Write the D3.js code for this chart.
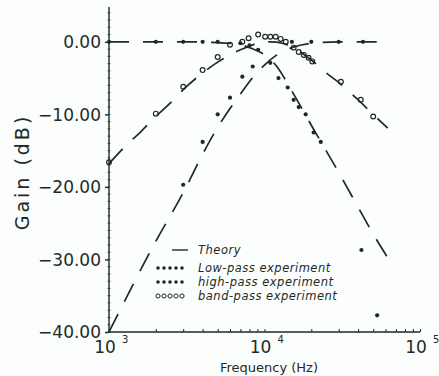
<!DOCTYPE html>
<html>
<head>
<meta charset="utf-8">
<title>filter gain vs frequency</title>
<style>
  body { margin: 0; background: #fcfdfd; }
  svg { display: block; }
  text { font-family: "DejaVu Sans", sans-serif; fill: #1e2b24; }
</style>
</head>
<body>
<svg></svg>
<script src="https://d3js.org/d3.v7.min.js"></script>
<script>
// theory curves: frequency in Hz, gain in dB
const lowTheoryF  = [1000, 3000, 5000, 7000, 8000, 10000, 12000, 15000, 20000, 30000, 40000, 50000, 63000];
const lowTheoryG  = [0, 0, -0.1, -0.4, -0.8, -1.8, -3.4, -6.8, -11.5, -18, -22.8, -26.5, -30];
const highTheoryF = [1000, 2000, 3000, 4000, 5000, 6000, 7000, 8000, 9000, 10000, 12000, 15000, 20000, 30000, 60000];
const highTheoryG = [-40, -27.5, -20.8, -15.5, -11.8, -9.2, -7.2, -5.5, -4.2, -3.2, -1.8, -0.8, -0.2, 0, 0];
const bandTheoryF = [1000, 1300, 1600, 2000, 2600, 3000, 4000, 5000, 6000, 7000, 8000, 9000, 11000, 13000, 15000, 20000, 25000, 30000, 40000, 50000, 62000];
const bandTheoryG = [-16.8, -14.2, -12.4, -10.3, -8, -6.6, -4.3, -2.8, -1.8, -1.1, -0.6, -0.2, 0, -0.2, -0.7, -2.5, -4.3, -5.6, -8, -10, -11.9];

// experiments
const lowExpF  = [1000, 2000, 3000, 4000, 5000, 7000, 8000, 10900, 12300, 14100, 15400, 16600, 18400, 20700, 23000, 42000, 53000];
const lowExpG  = [0, 0, 0, 0, 0, -0.2, -0.5, -2.9, -5, -6.3, -8, -9, -10, -12.5, -13.8, -28.7, -37.7];
const highExpF = [3000, 4000, 5000, 6000, 7200, 8400, 9100, 15000, 20000, 30000, 43000];
const highExpG = [-19.7, -13.8, -10, -7.7, -4.8, -3.4, -1.1, 0, 0, 0, 0];
const bandExpF = [1000, 2000, 3000, 4000, 5000, 6000, 7200, 7900, 9100, 10100, 10900, 11800, 12700, 13700, 15400, 16600, 17900, 19200, 20300, 31000, 41600, 50000];
const bandExpG = [-16.6, -9.9, -6.2, -3.9, -2.1, -0.4, 0, 0.5, 1, 0.7, 0.7, 0.7, 0.4, 0, -0.8, -1.4, -1.8, -2.2, -2.7, -5.5, -8, -10.3];

const yTicks = [0, -10, -20, -30, -40];
const xTicks = [1e3, 1e4, 1e5];
const legendLabels = ["Theory", "Low-pass  experiment", "high-pass experiment", "band-pass experiment"];

const width = 439, height = 376;
const ink = "#1e2b24";
const svg = d3.select("svg").attr("width", width).attr("height", height);

const x = d3.scaleLog().domain([1e3, 1e5]).range([109, 420]);
const y = d3.scaleLinear().domain([-40, 4.8]).range([332, 7]);

const zip = (f, g) => f.map((v, i) => ({f: v, g: g[i]}));

// y axis
const yAxis = svg.append("g").attr("transform", "translate(109,0)")
  .call(d3.axisLeft(y).tickValues(yTicks).tickSize(4).tickFormat(d => d3.format(".2f")(d).replace("-", "\u2212")));
yAxis.select(".domain").attr("stroke", ink).attr("stroke-width", 1.4).attr("d", "M0," + y(-40) + "V" + y(4.8));
yAxis.selectAll(".tick line").attr("stroke", ink).attr("stroke-width", 1.4);
yAxis.selectAll(".tick text").attr("font-size", 17).attr("x", -8).attr("dy", "0.35em").style("fill", ink);
// minor ticks
svg.append("g").selectAll("line").data(d3.range(-40, 4.5, 1)).enter().append("line")
  .attr("x1", 107.5).attr("x2", 110.5)
  .attr("y1", d => y(d)).attr("y2", d => y(d))
  .attr("stroke", ink).attr("stroke-width", 0.7);

// x axis
const xMinor = [];
[1e3, 1e4].forEach(dec => { for (let k = 2; k <= 9; k++) xMinor.push(dec * k); });
const xAxis = svg.append("g").attr("transform", "translate(0,332)")
  .call(d3.axisTop(x).tickValues(xMinor.concat(xTicks)).tickSize(3).tickFormat(""));
xAxis.select(".domain").attr("stroke", ink).attr("stroke-width", 1.4).attr("d", "M109,0H420");
xAxis.selectAll(".tick line").attr("stroke", ink).attr("stroke-width", 1);

const xl = svg.append("g").selectAll("g").data(xTicks).enter().append("g")
  .attr("transform", d => "translate(" + x(d) + ",0)");
xl.append("text").attr("x", -4).attr("y", 353).attr("text-anchor", "middle").attr("font-size", 17).text("10");
xl.append("text").attr("x", 13).attr("y", 343).attr("font-size", 10).text((d, i) => [3, 4, 5][i]);

svg.append("text").attr("x", 269).attr("y", 372).attr("text-anchor", "middle")
  .attr("font-size", 13).text("Frequency (Hz)");
svg.append("text").attr("transform", "translate(29,172) rotate(-90)")
  .attr("text-anchor", "middle").attr("font-size", 19).attr("letter-spacing", 3).text("Gain (dB)");

// theory curves
const line = d3.line().x(d => x(d.f)).y(d => y(d.g)).curve(d3.curveMonotoneX);
[[lowTheoryF, lowTheoryG], [highTheoryF, highTheoryG], [bandTheoryF, bandTheoryG]].forEach(s => {
  svg.append("path").datum(zip(s[0], s[1])).attr("d", line)
    .attr("fill", "none").attr("stroke", ink).attr("stroke-width", 1.7)
    .attr("stroke-dasharray", "20,14");
});

// experiment markers
svg.append("g").selectAll("circle").data(zip(lowExpF, lowExpG)).enter().append("circle")
  .attr("cx", d => x(d.f)).attr("cy", d => y(d.g)).attr("r", 2.1).attr("fill", ink);
svg.append("g").selectAll("circle").data(zip(highExpF, highExpG)).enter().append("circle")
  .attr("cx", d => x(d.f)).attr("cy", d => y(d.g)).attr("r", 2.1).attr("fill", ink);
svg.append("g").selectAll("circle").data(zip(bandExpF, bandExpG)).enter().append("circle")
  .attr("cx", d => x(d.f)).attr("cy", d => y(d.g)).attr("r", 2.4)
  .attr("fill", "none").attr("stroke", ink).attr("stroke-width", 1.2);

// legend
const legendY = [250, 268, 282, 296];
const legend = svg.append("g").selectAll("g").data(legendLabels).enter().append("g")
  .attr("transform", (d, i) => "translate(0," + legendY[i] + ")");
legend.append("text").attr("x", 198).attr("y", 4).attr("font-size", 11.5).attr("letter-spacing", 0.5)
  .attr("font-style", "italic").text(d => d);
legend.filter((d, i) => i === 0).append("line")
  .attr("x1", 172).attr("x2", 188).attr("stroke", ink).attr("stroke-width", 1.4);
legend.filter((d, i) => i > 0).each(function(d, i) {
  d3.select(this).selectAll("circle").data(d3.range(5)).enter().append("circle")
    .attr("cx", k => 158 + k * 6).attr("cy", 0).attr("r", i === 2 ? 2.1 : 1.8)
    .attr("fill", i === 2 ? "none" : ink).attr("stroke", ink).attr("stroke-width", i === 2 ? 1 : 0);
});
</script>
</body>
</html>
